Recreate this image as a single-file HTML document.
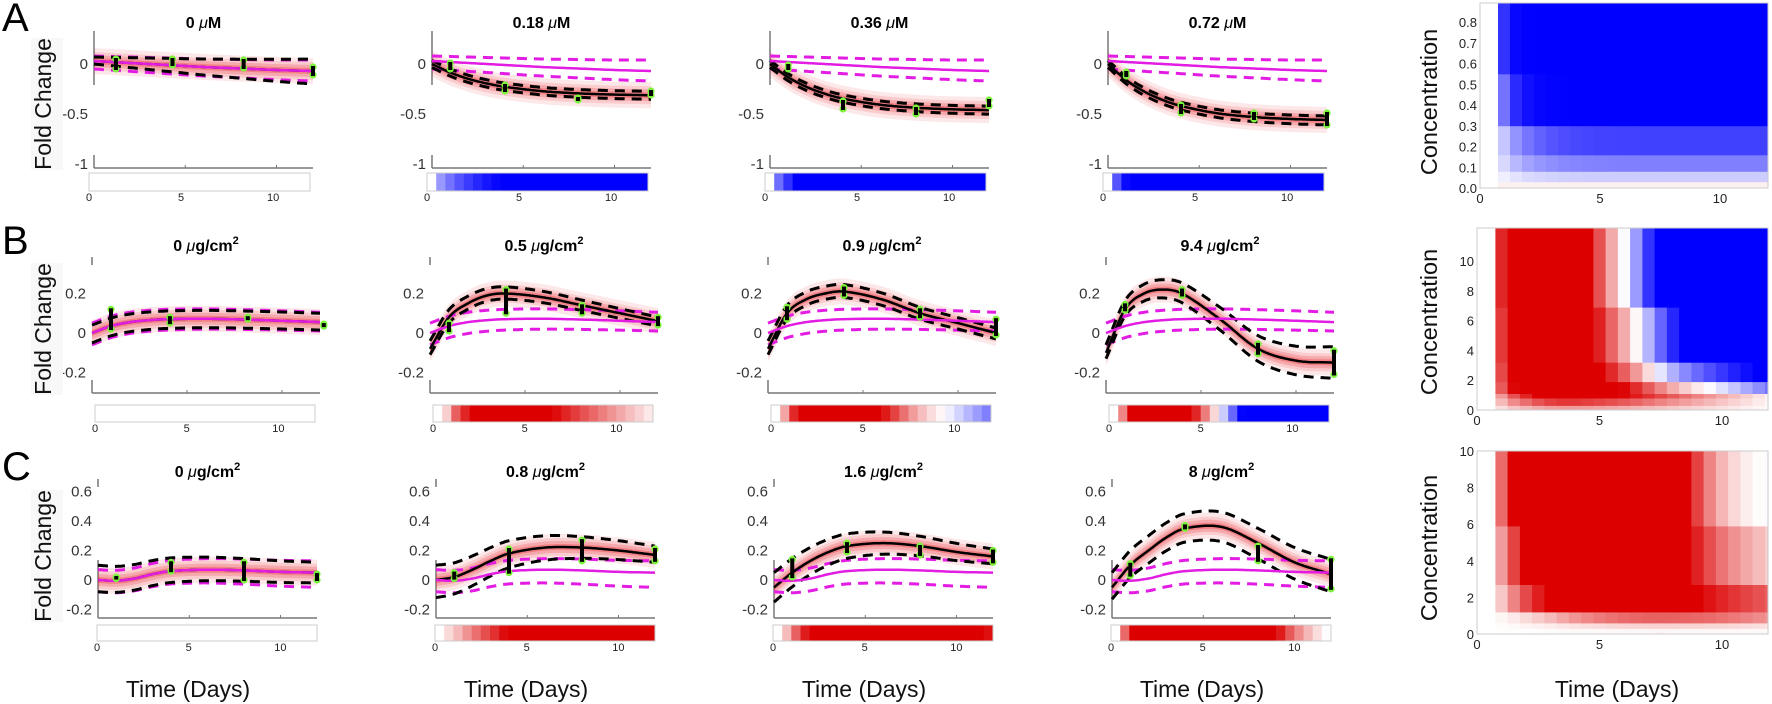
<!DOCTYPE html>
<html><head><meta charset="utf-8"><style>
html,body{margin:0;padding:0;background:#fff;}
svg{display:block;font-family:"Liberation Sans",sans-serif;}
</style></head><body>
<svg id="s" xmlns="http://www.w3.org/2000/svg" width="1772" height="704" viewBox="0 0 1772 704">
<rect width="1772" height="704" fill="#fff"/>
<text x="2" y="31" font-size="40">A</text>
<text x="2" y="254" font-size="40">B</text>
<text x="2" y="480" font-size="40">C</text>
</svg>
<script>
const svg=document.getElementById('s');
let out='';
const T=[0,1,2,3,4,6,8,10,12];
function H(V,t){
  let i=0; while(i<T.length-2 && t>T[i+1]) i++;
  const sl=k=>{ if(k==0) return (V[1]-V[0])/(T[1]-T[0]); if(k==T.length-1) return (V[k]-V[k-1])/(T[k]-T[k-1]); return (V[k+1]-V[k-1])/(T[k+1]-T[k-1]);};
  const h=T[i+1]-T[i], u=(t-T[i])/h;
  const h00=2*u*u*u-3*u*u+1,h10=u*u*u-2*u*u+u,h01=-2*u*u*u+3*u*u,h11=u*u*u-u*u;
  return h00*V[i]+h10*h*sl(i)+h01*V[i+1]+h11*h*sl(i+1);
}
const ex=(a,tau)=>T.map(t=>a*(1-Math.exp(-t/tau)));
const lerp=(a,b,u)=>a+(b-a)*u;
const MAG='#e31ce3', GRN='#7cf23c';
const rows=[
 {ax:94,aw:219,top:31,bot:168,zy:64,ppu:100,ticks:[[0,'0'],[-0.5,'-0.5'],[-1,'-1']],seg:[[31,85],[155,168]],
  sx:89,sw:221,sy:173,sh:18,sl:197,ty:28,s:0.22,
  mag:[0.03,0.02,0.01,0.0,-0.01,-0.03,-0.045,-0.06,-0.07],mu:[0.05,0.11],ml:[0.08,0.1],
  titles:['0 ','0.18 ','0.36 ','0.72 '],unit:'M',
  cols:[
   {m:[0.03,0.02,0.01,0.0,-0.01,-0.03,-0.045,-0.06,-0.07],u:[0.04,0.12],l:[0.03,0.13],p:[[1.2,0,0.05],[4.3,0.02,0.03],[8.2,0,0.04],[12,-0.07,0.04]]},
   {m:ex(-0.32,3.2),u:[0.035,0.04],l:[0.035,0.04],p:[[1,-0.02,0.03],[4,-0.24,0.03],[8,-0.35,0.01],[12,-0.29,0.02]]},
   {m:ex(-0.47,3),u:[0.035,0.04],l:[0.035,0.04],p:[[1,-0.03,0.02],[4,-0.41,0.04],[8,-0.47,0.03],[12,-0.39,0.03]]},
   {m:ex(-0.57,3),u:[0.035,0.04],l:[0.035,0.05],p:[[1,-0.1,0.02],[4,-0.45,0.04],[8,-0.52,0.03],[12,-0.55,0.06]]}
  ]},
 {ax:92,aw:228,top:257,bot:393,zy:333,ppu:197.5,ticks:[[0.2,'0.2'],[0,'0'],[-0.2,'-0.2']],seg:[[257,265],[380,393]],
  sx:95,sw:220,sy:405,sh:17,sl:428,ty:251,s:0.1,
  mag:[0,0.035,0.055,0.065,0.07,0.072,0.068,0.062,0.055],mu:[0.05,0.05],ml:[0.06,0.045],
  titles:['0 ','0.5 ','0.9 ','9.4 '],unit:'g',
  cols:[
   {m:[0,0.035,0.055,0.065,0.07,0.072,0.068,0.062,0.055],u:[0.04,0.045],l:[0.05,0.04],p:[[1,0.07,0.05],[4.1,0.065,0.015],[8.2,0.075,0.005],[12.2,0.04,0.005]]},
   {m:[-0.08,0.08,0.15,0.19,0.2,0.18,0.14,0.1,0.06],u:[0.04,0.02],l:[0.03,0.025],p:[[1,0.03,0.02],[4,0.16,0.06],[8,0.12,0.02],[12,0.06,0.02]]},
   {m:[-0.08,0.1,0.17,0.2,0.21,0.17,0.1,0.05,0.0],u:[0.04,0.025],l:[0.03,0.03],p:[[1,0.1,0.03],[4,0.21,0.02],[8,0.1,0.02],[12,0.03,0.04]]},
   {m:[-0.1,0.12,0.2,0.22,0.2,0.07,-0.08,-0.14,-0.15],u:[0.04,0.08],l:[0.03,0.08],p:[[1,0.13,0.015],[4,0.205,0.015],[8,-0.08,0.025],[12,-0.15,0.06]]}
  ]},
 {ax:98,aw:219,top:479,bot:618,zy:580,ppu:147.5,ticks:[[0.6,'0.6'],[0.4,'0.4'],[0.2,'0.2'],[0,'0'],[-0.2,'-0.2']],seg:[[479,487],[560,618]],
  sx:97,sw:220,sy:625,sh:16,sl:647,ty:477,s:0.12,
  mag:[0,-0.005,0.01,0.04,0.06,0.07,0.065,0.055,0.05],mu:[0.07,0.08],ml:[0.08,0.1],
  titles:['0 ','0.8 ','1.6 ','8 '],unit:'g',
  cols:[
   {m:[0,-0.005,0.01,0.04,0.06,0.07,0.065,0.055,0.05],u:[0.1,0.07],l:[0.08,0.07],p:[[1,0.015,0.005],[4,0.09,0.03],[8,0.06,0.06],[12,0.02,0.02]]},
   {m:[0,0.02,0.07,0.13,0.18,0.22,0.22,0.2,0.17],u:[0.1,0.06],l:[0.12,0.05],p:[[1,0.03,0.02],[4,0.13,0.08],[8,0.2,0.07],[12,0.17,0.04]]},
   {m:[-0.05,0.05,0.13,0.19,0.23,0.25,0.23,0.19,0.16],u:[0.1,0.05],l:[0.1,0.05],p:[[1,0.08,0.06],[4,0.22,0.03],[8,0.2,0.03],[12,0.16,0.04]]},
   {m:[-0.05,0.1,0.2,0.29,0.35,0.36,0.25,0.12,0.04],u:[0.1,0.1],l:[0.08,0.12],p:[[1,0.07,0.04],[4,0.36,0.01],[8,0.18,0.05],[12,0.04,0.1]]}
  ]}
];
const CS=338;
function col(I,neg){I=Math.max(0,Math.min(1,I));
  if(neg){const v=Math.round(255*(1-I));return `rgb(${v},${v},255)`;}
  return `rgb(${Math.round(255-I*35)},${Math.round(255*(1-I))},${Math.round(255*(1-I))})`;}
function dcolor(d,s){return col(Math.abs(d)/s,d<0);}
function path(f,X,Y){let p='';for(let t=0;t<=12.001;t+=0.1){p+=(p?'L':'M')+X(t).toFixed(1)+','+Y(f(t)).toFixed(1);}return p;}
rows.forEach((R,ri)=>{
  R.cols.forEach((C,ci)=>{
    const x0=R.ax+ci*CS, X=t=>x0+t*R.aw/12, Y=v=>R.zy-v*R.ppu;
    const tx=x0+R.aw/2;
    if(R.unit=='M') out+=`<text x="${tx}" y="${R.ty}" font-size="16" font-weight="bold" text-anchor="middle">${R.titles[ci]}<tspan font-style="italic" font-weight="normal">μ</tspan>M</text>`;
    else out+=`<text x="${tx}" y="${R.ty}" font-size="16" font-weight="bold" text-anchor="middle">${R.titles[ci]}<tspan font-style="italic" font-weight="normal">μ</tspan>g/cm<tspan dy="-7" font-size="11">2</tspan></text>`;
    R.seg.forEach(sg=>out+=`<line x1="${x0}" y1="${sg[0]}" x2="${x0}" y2="${sg[1]}" stroke="#777" stroke-width="1.5"/>`);
    out+=`<line x1="${x0}" y1="${R.bot}" x2="${x0+R.aw}" y2="${R.bot}" stroke="#777" stroke-width="1.5"/>`;
    [5,10].forEach(t=>out+=`<line x1="${X(t)}" y1="${R.bot}" x2="${X(t)}" y2="${R.bot-3}" stroke="#777"/>`);
    R.ticks.forEach(tk=>out+=`<text x="${x0-6}" y="${Y(tk[0])+5}" font-size="15" fill="#333" text-anchor="end">${tk[1]}</text>`);
    const fm=t=>H(C.m,t);
    [[13,0.10],[9,0.14],[6,0.2],[3,0.3]].forEach(b=>{
      let p='';for(let t=0;t<=12.001;t+=0.2)p+=(p?'L':'M')+X(t).toFixed(1)+','+(Y(fm(t))-b[0]).toFixed(1);
      for(let t=12;t>=-0.001;t-=0.2)p+='L'+X(t).toFixed(1)+','+(Y(fm(t))+b[0]).toFixed(1);
      out+=`<path d="${p}Z" fill="#e8202a" fill-opacity="${b[1]}"/>`;
    });
    const fg=t=>H(R.mag,t);
    out+=`<path d="${path(t=>fg(t)+lerp(R.mu[0],R.mu[1],t/12),X,Y)}" fill="none" stroke="${MAG}" stroke-width="3" stroke-dasharray="10,7"/>`;
    out+=`<path d="${path(t=>fg(t)-lerp(R.ml[0],R.ml[1],t/12),X,Y)}" fill="none" stroke="${MAG}" stroke-width="3" stroke-dasharray="10,7"/>`;
    out+=`<path d="${path(t=>fm(t)+lerp(C.u[0],C.u[1],t/12),X,Y)}" fill="none" stroke="#000" stroke-width="3" stroke-dasharray="10,7"/>`;
    out+=`<path d="${path(t=>fm(t)-lerp(C.l[0],C.l[1],t/12),X,Y)}" fill="none" stroke="#000" stroke-width="3" stroke-dasharray="10,7"/>`;
    out+=`<path d="${path(fm,X,Y)}" fill="none" stroke="#000" stroke-width="2.5"/>`;
    out+=`<path d="${path(fg,X,Y)}" fill="none" stroke="${MAG}" stroke-width="2.5"/>`;
    C.p.forEach(pt=>{const px=X(pt[0]),y1=Y(pt[1]+pt[2]),y2=Y(pt[1]-pt[2]);
      out+=`<circle cx="${px}" cy="${y1}" r="3.6" fill="${GRN}"/><circle cx="${px}" cy="${y2}" r="3.6" fill="${GRN}"/>`;
      out+=`<rect x="${px-2}" y="${Math.min(y1,y2)-1}" width="4" height="${Math.abs(y2-y1)+2}" fill="#000"/>`;});
    const sx0=R.sx+ci*CS, dx=R.sw/24;
    for(let k=0;k<24;k++){const t=k*0.5+0.25;
      const c= t<0.75? '#fff' : dcolor(fm(t)-fg(t),R.s);
      out+=`<rect x="${(sx0+k*dx).toFixed(1)}" y="${R.sy}" width="${(dx+0.4).toFixed(1)}" height="${R.sh}" fill="${c}"/>`;}
    out+=`<rect x="${sx0}" y="${R.sy}" width="${R.sw}" height="${R.sh}" fill="none" stroke="#ccc"/>`;
    [[0,'0'],[5,'5'],[10,'10']].forEach(l=>out+=`<text x="${sx0+l[0]*R.sw/12}" y="${R.sl+4}" font-size="11" text-anchor="middle" fill="#222">${l[1]}</text>`);
  });
  const cy=[104,329,556][ri];
  out+=`<rect x="31" y="${cy-66}" width="32" height="132" fill="#f8f8f8"/>`;
  out+=`<text transform="translate(51,${cy}) rotate(-90)" font-size="23" text-anchor="middle" fill="#111">Fold Change</text>`;
});
[188,188+CS,188+2*CS,188+3*CS,1617].forEach(x=>out+=`<text x="${x}" y="697" font-size="23" text-anchor="middle" fill="#111">Time (Days)</text>`);
function heat(x0,x1,y0v,ppd,ypx,rowsDef,fn,ticks,top,cy){
  const X=t=>x0+t*ppd;
  rowsDef.forEach(r=>{
    for(let k=0;k<23;k++){const ta=0.75+k*0.5,tb=Math.min(ta+0.5,12.5);
      const xa=X(ta), xb=Math.min(X(tb),x1); if(xa>=x1)break;
      out+=`<rect x="${xa.toFixed(1)}" y="${ypx(r[1]).toFixed(1)}" width="${(xb-xa+0.4).toFixed(1)}" height="${(ypx(r[0])-ypx(r[1])+0.4).toFixed(1)}" fill="${fn(r,ta+0.25,k)}"/>`;}
  });
  out+=`<rect x="${x0}" y="${top}" width="${x1-x0}" height="${y0v-top}" fill="none" stroke="#ccc"/>`;
  ticks.forEach(tk=>out+=`<text x="${x0-3}" y="${ypx(tk[0])+5}" font-size="13" text-anchor="end" fill="#222">${tk[1]}</text>`);
  [[0,'0'],[5,'5'],[10,'10']].forEach(l=>out+=`<text x="${X(l[0])}" y="${y0v+15}" font-size="13" text-anchor="middle" fill="#222">${l[1]}</text>`);
  out+=`<text transform="translate(1437,${cy}) rotate(-90)" font-size="23.5" text-anchor="middle" fill="#111">Concentration</text>`;
}
{const ypx=v=>188-v*207.5;
 const amps=[[0,0.03,0.02],[0.03,0.08,0.2],[0.08,0.16,0.5],[0.16,0.3,0.75],[0.3,0.55,1.0],[0.55,0.89,1.0]];
 heat(1480,1768,188,24,ypx,amps,(r,t,k)=>{ if(r[2]<0.05) return col(0.06,false);
   const g=1-Math.exp(-(t-0.6)/(r[2]>0.9?(r[1]>0.6?0.25:0.5):1.1)); return col(r[2]*g,true);},
   [[0,'0.0'],[0.1,'0.1'],[0.2,'0.2'],[0.3,'0.3'],[0.4,'0.4'],[0.5,'0.5'],[0.6,'0.6'],[0.7,'0.7'],[0.8,'0.8']],3,102);}
const D=(ri,ci,t)=>H(rows[ri].cols[ci].m,t)-H(rows[ri].mag,t);
{const ypx=v=>410-v*14.9;
 const rd=[[0,0.3,t=>0.3*D(1,1,t)],[0.3,0.8,t=>0.6*D(1,1,t)],[0.8,1.1,t=>0.9*D(1,1,t)],[1.1,1.9,t=>D(1,2,t)],
   [1.9,3.2,t=>0.65*D(1,2,t)+0.35*D(1,3,t)],[3.2,6.9,t=>0.35*D(1,2,t)+0.65*D(1,3,t)],[6.9,12.2,t=>D(1,3,t)]];
 heat(1477,1768,410,24.5,ypx,rd,(r,t)=>dcolor(r[2](t),0.1),[[0,'0'],[2,'2'],[4,'4'],[6,'6'],[8,'8'],[10,'10']],228,322);}
{const ypx=v=>634-v*18.3;
 const rd=[[0,0.3,t=>0.1*D(2,1,t)],[0.3,0.6,t=>0.3*D(2,1,t)],[0.6,1.2,t=>0.7*D(2,1,t)],[1.2,2.7,t=>D(2,2,t)],
   [2.7,5.9,t=>0.5*D(2,2,t)+0.5*D(2,3,t)],[5.9,10,t=>D(2,3,t)]];
 heat(1477,1768,634,24.5,ypx,rd,(r,t)=>{const d=r[2](t);return col(Math.pow(Math.min(1,Math.abs(d)/0.15),1.5),d<0);},[[0,'0'],[2,'2'],[4,'4'],[6,'6'],[8,'8'],[10,'10']],451,548);}
svg.insertAdjacentHTML('beforeend',out);
</script>
</body></html>
